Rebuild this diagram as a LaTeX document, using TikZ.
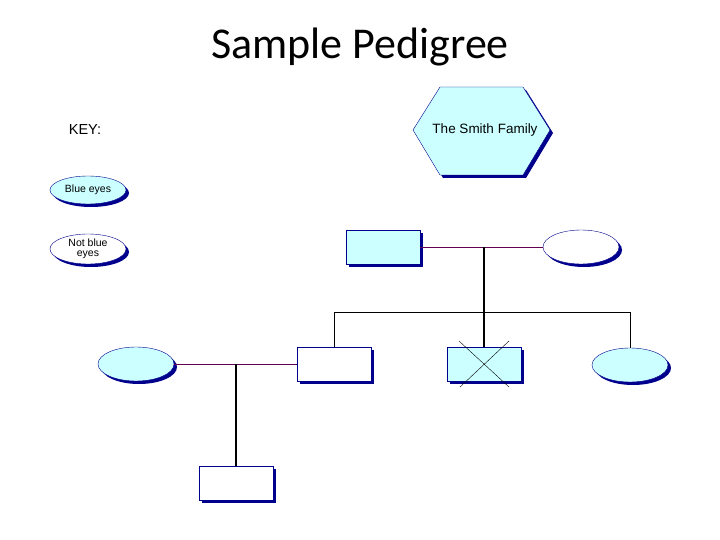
\documentclass[tikz,border=0pt]{standalone}
\usepackage{fontspec}
\setmainfont{Liberation Sans}
\newfontfamily\titlefont{Carlito}
\usetikzlibrary{shapes.geometric,shadows,calc}
\definecolor{pedfill}{RGB}{204,255,255}
\definecolor{pededge}{RGB}{0,0,140}
\definecolor{pedline}{RGB}{100,0,80}

\begin{document}
\begin{tikzpicture}[x=1pt,y=-1pt]
	\tikzset{male/.style={draw=pededge,rectangle,fill=white,minimum width=74pt,minimum height=34pt,inner sep=0pt,
			drop shadow={fill=pededge,opacity=1,shadow xshift=3pt,shadow yshift=-3pt}},
		female/.style={male,ellipse,minimum width=76pt},
		blue/.style={fill=pedfill},
		marriage/.style={draw=pedline,line width=0.8pt},
		descent/.style={draw=black,line width=1.6pt},
		sibs/.style={draw=black,line width=0.8pt}
	}
	\fill[white] (0,0) rectangle (720,540);
	\useasboundingbox (0,0) rectangle (720,540);

	\node (title) at (360,47) {\titlefont\fontsize{44}{50}\selectfont Sample Pedigree};

	% key
	\node [font=\fontsize{14.5}{16}\selectfont] (key) at (85,130) {KEY:};
	\node [female,blue,minimum height=28pt,font=\fontsize{10.5}{11}\selectfont] (blueeyes) at (88,190) {Blue eyes};
	\node [female,minimum height=30pt,align=center,font=\fontsize{10.5}{10.5}\selectfont] (notblue) at (88,249) {Not blue\\eyes};

	% family name
	\filldraw [draw=pededge,fill=pedfill,drop shadow={fill=pededge,opacity=1,shadow xshift=3pt,shadow yshift=-3pt}]
		(413,130) -- (440,87) -- (523,87) -- (550,130) -- (523,175) -- (440,175) -- cycle;
	\node [font=\fontsize{13.5}{15}\selectfont] (family) at (485,130) {The Smith Family};

	\node [male,blue] (father) at (383,247) {};
	\node [female] (mother) at (581,247) {};
	\node [female,blue] (wife) at (136,364) {};
	\node [male] (son) at (334,364) {};
	\node [male,blue] (dead) at (484,364) {};
	\node [female,blue] (daughter) at (630,365) {};
	\node [male] (grandson) at (236,483) {};

	\coordinate (couple1) at (484,247);
	\coordinate (couple2) at (236,364);

	\draw [marriage] (father) -- (mother)
		  (wife) -- (son);
	\draw [descent] (couple1) -- (dead.north)
		  (couple2) -- (grandson.north);
	\draw [sibs] (son.north) -- ++(0,-34) -| (daughter.north);
	\draw [thin] ($(dead.center)+(-25,-23)$) -- ($(dead.center)+(25,23)$)
		  ($(dead.center)+(25,-23)$) -- ($(dead.center)+(-24,23)$);
\end{tikzpicture}
\end{document}
